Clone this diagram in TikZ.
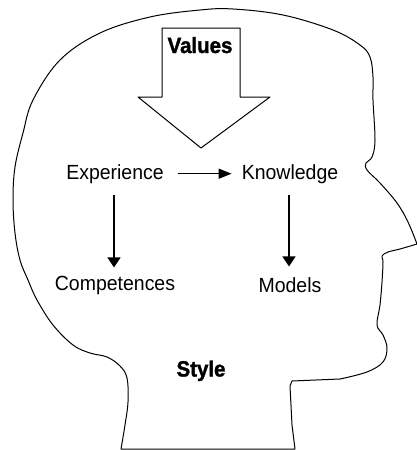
\documentclass[tikz,border=0pt]{standalone}
\usepackage{fontspec}
\setmainfont{Liberation Sans}
\newfontfamily\labelfont[FakeStretch=0.95]{Liberation Sans}
\newfontfamily\heavyfont[FakeStretch=0.93,BoldFeatures={FakeBold=1.5}]{Liberation Sans}
\usetikzlibrary{arrows.meta}

\begin{document}
\begin{tikzpicture}[x=1pt,y=-1pt,
  outline/.style={line width=1pt, line join=round},
  link/.style={line width=1.3pt, -{Triangle[length=13pt,width=10pt]}},
  drop/.style={line width=1.3pt, -{Triangle[length=10pt,width=13pt]}},
  term/.style={font=\labelfont\fontsize{20.5}{24}\selectfont, inner sep=0pt, anchor=base},
  heading/.style={font=\heavyfont\bfseries\fontsize{22}{26}\selectfont, inner sep=0pt, anchor=base}]

\useasboundingbox (0,0) rectangle (416,450);

% head profile: back of the head, crown, brow and nose, then mouth, chin and neck
\draw[outline] plot[smooth, tension=0.6] coordinates {
    (121,449) (125,425) (128,402) (127,378) (120,366) (107,357) (90,353)
    (73,345) (53,325) (37,300) (28,280) (20,260) (15,233) (13,200) (15,167)
    (23,133) (33,100) (60,60) (100,33) (150,17) (200,10) (233,9) (283,15)
    (333,30) (360,45) (370,57) (373,77) (373,100) (375,140) (372,157)
    (366,163) (367,170) (380,183) (397,203) (408,222) (417,244)}
  -- plot[smooth, tension=0.6] coordinates {
    (417,244) (400,249) (388,252) (382,256) (383,262) (382,282) (380,305)
    (377,325) (383,335) (387,348) (383,362) (367,372) (340,379)}
  -- (292,381) -- (290,386) -- (292,425) -- (295,449) -- cycle;

% broad downward arrow carrying the values
\draw[outline] (162,28) -- (240,28) -- (240,97) -- (270,97) -- (201,148)
  -- (138,97) -- (162,97) -- cycle;
\node[heading] (values) at (200,53) {Values};

% terms
\node[term] (exp)  at (115,179) {Experience};
\node[term] (know) at (290,179) {Knowledge};
\node[term] (comp) at (115,290) {Competences};
\node[term] (mod)  at (290,292.5) {Models};
\node[heading] (style) at (201,376.5) {Style};

% connectors
\draw[link, shorten <=14pt, shorten >=10pt] (exp.east) -- (know.west);
\draw[drop, shorten <=12pt, shorten >=8pt] ([xshift=-1pt]exp.south) -- ([xshift=-1pt]exp.south |- comp.north);
\draw[drop, shorten <=12pt, shorten >=11pt] ([xshift=-1pt]know.south) -- ([xshift=-1pt]know.south |- mod.north);
\end{tikzpicture}
\end{document}
